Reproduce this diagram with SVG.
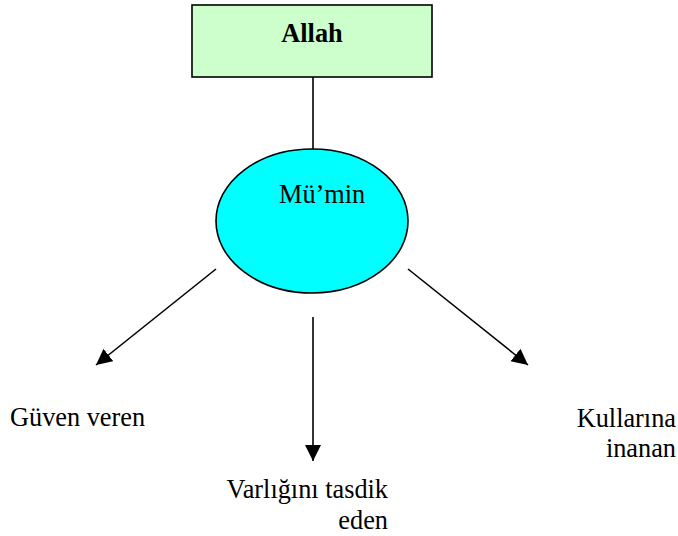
<svg xmlns="http://www.w3.org/2000/svg" width="678" height="536" viewBox="0 0 678 536">
<defs>
<style>
.t{font-family:"Liberation Serif","Times New Roman",serif;font-size:26.3px;fill:#000}
.ln{stroke:#000;stroke-width:1.6;fill:none}
</style>
<marker id="ah" markerUnits="userSpaceOnUse" markerWidth="18" markerHeight="18" refX="16" refY="8" orient="auto">
<path d="M0,0 L16,8 L0,16 Z" fill="#000"/>
</marker>
</defs>
<rect width="678" height="536" fill="#fff"/>
<g id="connectors">
<line class="ln" x1="313" y1="77" x2="313" y2="149"/>
<line class="ln" x1="216" y1="269" x2="96" y2="365" marker-end="url(#ah)"/>
<line class="ln" x1="313" y1="317" x2="313" y2="461" marker-end="url(#ah)"/>
<line class="ln" x1="408" y1="269" x2="528" y2="365" marker-end="url(#ah)"/>
</g>
<g id="allah">
<rect x="192" y="5" width="240" height="72" fill="#CCFFCC" stroke="#000" stroke-width="1.6"/>
<text class="t" x="312" y="42" text-anchor="middle" font-weight="bold">Allah</text>
</g>
<g id="mumin">
<ellipse cx="312" cy="221" rx="96" ry="72" fill="#00FFFF" stroke="#000" stroke-width="1.6"/>
<text class="t" x="279" y="203">Mü’min</text>
</g>
<g id="guven">
<text class="t" x="10" y="426">Güven veren</text>
</g>
<g id="varligini">
<text class="t" x="388" y="498" text-anchor="end">Varlığını tasdik</text>
<text class="t" x="388" y="529" text-anchor="end">eden</text>
</g>
<g id="kullarina">
<text class="t" x="676" y="427" text-anchor="end">Kullarına</text>
<text class="t" x="676" y="457" text-anchor="end">inanan</text>
</g>
</svg>
